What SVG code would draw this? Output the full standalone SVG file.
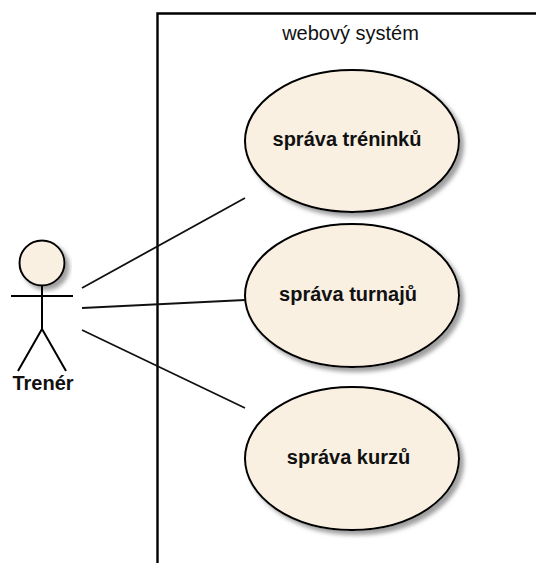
<svg xmlns="http://www.w3.org/2000/svg" width="536" height="563" viewBox="0 0 536 563">
<style>
.l{fill:none;stroke:#000;stroke-width:2}
.f{fill:none;stroke:#000;stroke-width:2.400}
.c{fill:none;stroke:#111;stroke-width:1.800}
.u{fill:#f9f0e2;stroke:#000;stroke-width:2;filter:url(#s)}
text{font-family:"Liberation Sans",Arial,sans-serif;fill:#111}
.b{font-weight:bold;font-size:20px;text-anchor:middle}
</style>
<defs><filter id="s" x="-10%" y="-10%" width="125%" height="125%"><feDropShadow dx="4" dy="4" stdDeviation="2" flood-color="#888" flood-opacity="0.8"/></filter></defs>
<rect width="536" height="563" fill="#fff"/>
<g id="system"><path class="f" d="M157.500 563V13.500H536"/><text x="350.500" y="40" font-size="20" text-anchor="middle">webový systém</text></g>
<g id="connectors"><path class="c" d="M82 288L245 198M82 308L245 300M82 330L245 408"/></g>
<g id="actor"><circle class="u" cx="42" cy="263" r="22.500"/><path class="l" d="M11 296H73M42 286V329M42 329L18 371M42 329L66 371"/><text class="b" x="43" y="390">Trenér</text></g>
<g id="uc1"><ellipse class="u" cx="352" cy="141" rx="107" ry="71"/><text class="b" x="347" y="146">správa tréninků</text></g>
<g id="uc2"><ellipse class="u" cx="352" cy="295.500" rx="107" ry="71.500"/><text class="b" x="348" y="301">správa turnajů</text></g>
<g id="uc3"><ellipse class="u" cx="352" cy="458.500" rx="107" ry="71.500"/><text class="b" x="348.500" y="464">správa kurzů</text></g>
</svg>
